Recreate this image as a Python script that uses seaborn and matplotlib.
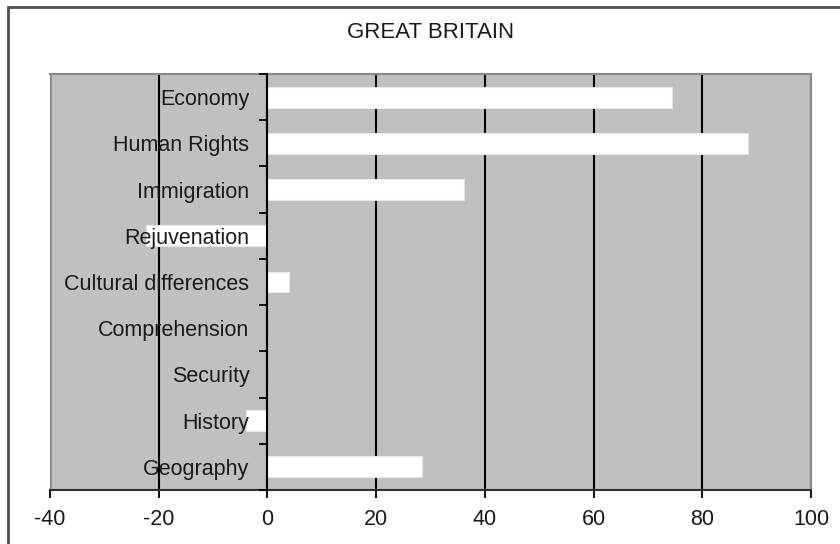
import matplotlib
matplotlib.use("Agg")
import matplotlib.pyplot as plt
import seaborn as sns
import pandas as pd
from matplotlib.patches import Rectangle
from matplotlib.ticker import FixedLocator

categories = ["Economy", "Human Rights", "Immigration", "Rejuvenation",
              "Cultural differences", "Comprehension", "Security", "History",
              "Geography"]
values = [74.5, 88.5, 36.1, -22.3, 3.9, 0.0, 0.0, -3.9, 28.4]
x_ticks = [-40, -20, 0, 20, 40, 60, 80, 100]
title = "GREAT BRITAIN"

sns.set_theme(style="white")
plt.rcParams['font.family'] = ['Liberation Sans', 'DejaVu Sans']

df = pd.DataFrame({"category": categories, "value": values})

fig = plt.figure(figsize=(8.4, 5.44), dpi=100)
ax = fig.add_axes([50/840, 1-490/544, 761/840, 416/544])

# outer frame of chart area
fig.patches.append(Rectangle((8/840, -0.1), 1.2, 1 - 7/544 + 0.1,
                             transform=fig.transFigure, fill=False,
                             edgecolor='#505050', linewidth=2.0, zorder=0))

sns.barplot(data=df, x="value", y="category", orient="h", color="white",
            width=0.45, edgecolor="#e6e6e6", linewidth=0.8, saturation=1,
            ax=ax, zorder=2)

ax.set_facecolor("#c0c0c0")
ax.set_xlim(-40, 100)
ax.set_ylim(len(categories) - 0.5, -0.5)
ax.set_xticks(x_ticks)
ax.set_xticklabels([str(t) for t in x_ticks], fontsize=15.5)
ax.set_xlabel("")
ax.set_ylabel("")

# gridlines
ax.set_axisbelow(True)
ax.xaxis.grid(True, color="black", linewidth=1.5)
ax.yaxis.grid(False)

# category axis at x=0
ax.spines['left'].set_position(('data', 0))
ax.spines['left'].set_color('black')
ax.spines['left'].set_linewidth(1.5)
ax.spines['left'].set_zorder(3)
ax.spines['bottom'].set_color('#303030')
ax.spines['bottom'].set_linewidth(1.5)
for s in ['top', 'right']:
    ax.spines[s].set_visible(True)
    ax.spines[s].set_color('#8a8a8a')
    ax.spines[s].set_linewidth(1.5)

ax.tick_params(axis='y', which='major', length=0, pad=13, labelsize=15.5,
               labelcolor='#1a1a1a')
ax.yaxis.set_minor_locator(FixedLocator([i - 0.5 for i in range(len(categories) + 1)]))
ax.tick_params(axis='y', which='minor', length=6, width=1.3, color='black',
               direction='out', left=True)
ax.tick_params(axis='x', which='major', length=6, width=1.3, color='black',
               direction='out', bottom=True, pad=8, labelcolor='#1a1a1a')
ax.yaxis.set_zorder(4)

# left border of plot area at -40 (gray)
ax.axvline(-40, color='#8a8a8a', linewidth=2.0, zorder=1)

fig.text(431/840, 1 - 33/544, title, ha='center', va='center',
         fontsize=16, color='#1a1a1a')

fig.savefig("out.png", dpi=100, facecolor='white')
